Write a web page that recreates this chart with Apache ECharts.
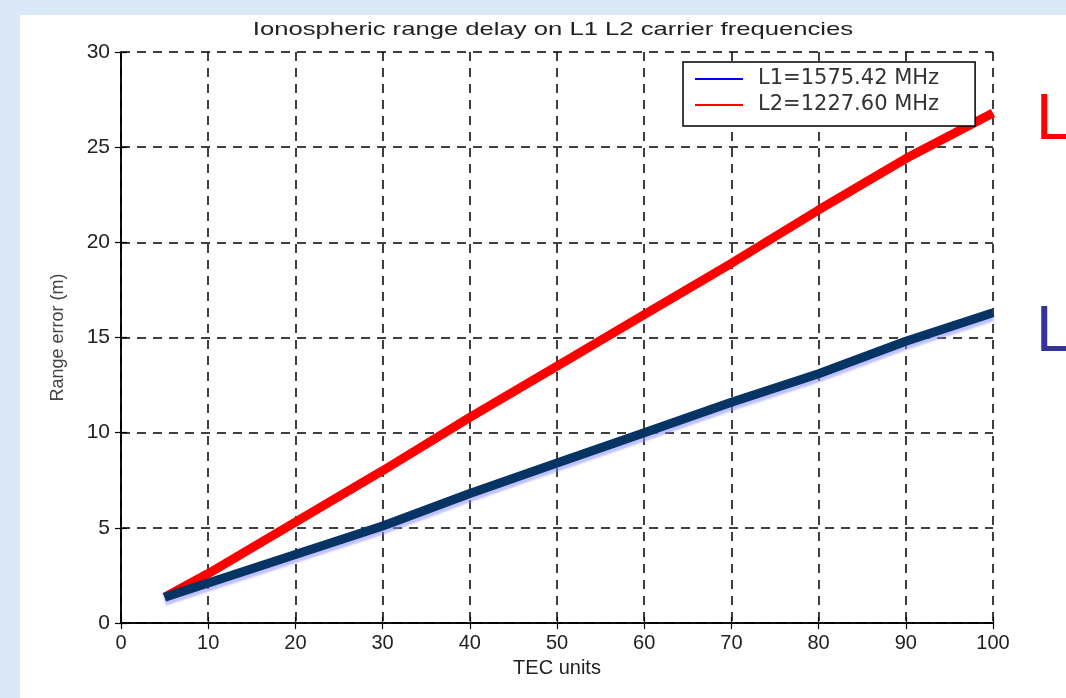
<!DOCTYPE html>
<html>
<head>
<meta charset="utf-8">
<script src="https://cdn.jsdelivr.net/npm/echarts@6/dist/echarts.min.js"></script>
<style>
html,body{margin:0;padding:0;background:#d9e7f6;}
#c{width:1066px;height:698px;}
</style>
</head>
<body>
<div id="c"></div>
<script>
const tec = [5, 10, 20, 30, 40, 50, 60, 70, 80, 90, 100];
const l1Values = [1.35, 2.1, 3.6, 5.1, 6.8, 8.4, 10.0, 11.6, 13.1, 14.8, 16.3];
const l2Values = [1.35, 2.6, 5.3, 8.0, 10.8, 13.5, 16.2, 18.9, 21.7, 24.4, 26.8];
const l1Name = 'L1=1575.42 MHz';
const l2Name = 'L2=1227.60 MHz';
const titleText = 'Ionospheric range delay on L1 L2 carrier frequencies';
const xName = 'TEC units';
const yName = 'Range error (m)';

const chart = echarts.init(document.getElementById('c'), null, {renderer: 'canvas'});
const font = 'Liberation Sans';
const axisCommon = {
  axisLine: {show: true, lineStyle: {color: '#000', width: 1.5}},
  axisTick: {show: true, inside: true, length: 6, lineStyle: {color: '#000', width: 1.2}},
};
chart.setOption({
  backgroundColor: '#d9e7f6',
  graphic: [
    {type: 'rect', shape: {x: 20, y: 15, width: 1046, height: 683}, style: {fill: '#ffffff'}, z: -10},
    {type: 'text', x: 553, y: 30, scaleX: 1.35, z: 10,
     style: {text: titleText, fill: '#222', font: '19px "Liberation Sans"', textAlign: 'center', textVerticalAlign: 'middle'}},
    {type: 'text', left: 1036, top: 89, style: {text: 'L', fill: '#ff0000', font: '64px "Liberation Sans"'}},
    {type: 'text', left: 1036, top: 301, style: {text: 'L', fill: '#333399', font: '64px "Liberation Sans"'}}
  ],
  legend: {
    left: 683, top: 62, orient: 'vertical', itemGap: 2, padding: [5, 36, 9, 12],
    backgroundColor: '#fff', borderColor: '#000', borderWidth: 1.5,
    itemWidth: 48, itemHeight: 2, icon: 'rect',
    textStyle: {fontFamily: 'DejaVu Sans', fontSize: 21, lineHeight: 24, color: '#333', padding: [0, 0, 0, 10]},
    data: [
      {name: l1Name, itemStyle: {color: '#0000ff'}},
      {name: l2Name, itemStyle: {color: '#ff0000'}}
    ]
  },
  grid: {left: 121, top: 52, width: 872, height: 571, containLabel: false},
  xAxis: [
    Object.assign({
      type: 'value', min: 0, max: 100, interval: 10, position: 'bottom',
      name: xName, nameLocation: 'middle', nameGap: 35,
      nameTextStyle: {fontFamily: font, fontSize: 20, color: '#222'},
      axisLabel: {fontFamily: font, fontSize: 20, color: '#222', margin: 10},
      splitLine: {show: true, lineStyle: {color: '#000', type: [9, 7], width: 1.5}}
    }, axisCommon),
    Object.assign({
      type: 'value', min: 0, max: 100, interval: 10, position: 'top',
      axisLabel: {show: false}, splitLine: {show: false}
    }, axisCommon)
  ],
  yAxis: [
    Object.assign({
      type: 'value', min: 0, max: 30, interval: 5, position: 'left',
      name: yName, nameLocation: 'middle', nameGap: 54, nameRotate: 90,
      nameTextStyle: {fontFamily: font, fontSize: 18, color: '#444'},
      axisLabel: {fontFamily: font, fontSize: 21, color: '#222', margin: 11},
      splitLine: {show: true, lineStyle: {color: '#000', type: [9, 7], width: 1.5}}
    }, axisCommon),
    Object.assign({
      type: 'value', min: 0, max: 30, interval: 5, position: 'right',
      axisLabel: {show: false}, splitLine: {show: false}
    }, axisCommon)
  ],
  series: [
    {
      name: l2Name, type: 'line', showSymbol: false, symbol: 'none', animation: false,
      data: tec.map((t, i) => [t, l2Values[i]]),
      lineStyle: {color: '#ff0000', width: 9, cap: 'butt'}, itemStyle: {color: '#ff0000'}, z: 3
    },
    {
      name: l1Name, type: 'line', showSymbol: false, symbol: 'none', animation: false,
      data: tec.map((t, i) => [t, l1Values[i]]),
      lineStyle: {color: '#063465', width: 9, cap: 'butt', shadowColor: 'rgba(140,140,255,0.55)', shadowOffsetY: 4, shadowBlur: 2},
      itemStyle: {color: '#0000ff'}, z: 4
    }
  ]
});
</script>
</body>
</html>
